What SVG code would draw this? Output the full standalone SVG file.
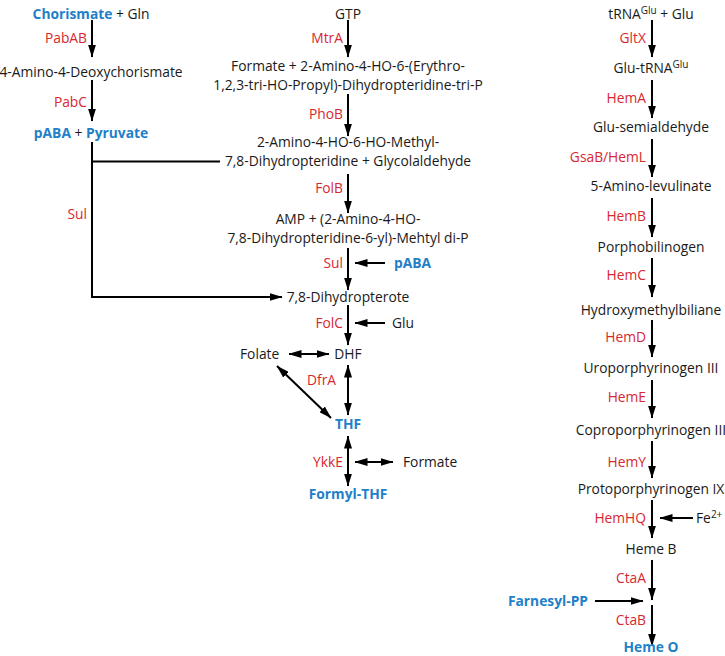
<svg xmlns="http://www.w3.org/2000/svg" width="725" height="656" viewBox="0 0 725 656">
<style>
text{font-family:"Open Sans","Liberation Sans",sans-serif;font-size:13.8px;fill:#1a1a1a}
.c{text-anchor:middle}
.e{text-anchor:end;fill:#d7282f}
.b{fill:#2180c8;font-weight:bold}
.ln{stroke:#000;stroke-width:2;fill:none}
.a{marker-end:url(#ah)}
.d{marker-start:url(#ah);marker-end:url(#ah)}
</style>
<defs>
<marker id="ah" viewBox="0 0 13 8" refX="12.5" refY="4" markerWidth="13" markerHeight="8" markerUnits="userSpaceOnUse" orient="auto-start-reverse"><path d="M0,0 L13,4 L0,8 z" fill="#000"/></marker>
</defs>
<g id="connectors">
<path class="ln a" d="M92,20 V57"/>
<path class="ln a" d="M92,80 V121"/>
<path class="ln a" d="M92,142 V297 H282"/>
<path class="ln" d="M92,161.5 H220"/>
<path class="ln a" d="M348,20 V57"/>
<path class="ln a" d="M348,94 V136"/>
<path class="ln a" d="M348,174 V213"/>
<path class="ln a" d="M348,248 V290"/>
<path class="ln a" d="M385,263 H355"/>
<path class="ln a" d="M348,305 V345"/>
<path class="ln a" d="M385,323 H355"/>
<path class="ln d" d="M289,354 H329"/>
<path class="ln d" d="M348,365 V415"/>
<path class="ln d" d="M277,366 L331,418"/>
<path class="ln d" d="M348,436 V486"/>
<path class="ln d" d="M355,462 H393"/>
<path class="ln a" d="M652,20 V57"/>
<path class="ln a" d="M652,80 V118"/>
<path class="ln a" d="M652,139 V177"/>
<path class="ln a" d="M652,198 V237"/>
<path class="ln a" d="M652,258 V297"/>
<path class="ln a" d="M652,320 V357"/>
<path class="ln a" d="M652,380 V418"/>
<path class="ln a" d="M652,441 V478"/>
<path class="ln a" d="M652,500 V538"/>
<path class="ln a" d="M693,518 H660"/>
<path class="ln a" d="M652,560 V600"/>
<path class="ln a" d="M595,601 H643"/>
<path class="ln a" d="M652,605 V646"/>
</g>
<g id="chorismate"><text class="c" x="91" y="19"><tspan class="b">Chorismate</tspan> + Gln</text></g>
<g id="pabab"><text class="e" x="87" y="43">PabAB</text></g>
<g id="adc"><text class="c" x="91" y="77">4-Amino-4-Deoxychorismate</text></g>
<g id="pabc"><text class="e" x="87" y="107">PabC</text></g>
<g id="paba"><text class="c" x="91" y="138"><tspan class="b">pABA</tspan> + <tspan class="b">Pyruvate</tspan></text></g>
<g id="sul1"><text class="e" x="87" y="219">Sul</text></g>
<g id="gtp"><text class="c" x="348" y="19">GTP</text></g>
<g id="mtra"><text class="e" x="343" y="43">MtrA</text></g>
<g id="formate1"><text class="c" x="348" y="71">Formate + 2-Amino-4-HO-6-(Erythro-</text><text class="c" x="348" y="90">1,2,3-tri-HO-Propyl)-Dihydropteridine-tri-P</text></g>
<g id="phob"><text class="e" x="343" y="119">PhoB</text></g>
<g id="dihydropteridine"><text class="c" x="348" y="147">2-Amino-4-HO-6-HO-Methyl-</text><text class="c" x="348" y="166">7,8-Dihydropteridine + Glycolaldehyde</text></g>
<g id="folb"><text class="e" x="343" y="193">FolB</text></g>
<g id="amp"><text class="c" x="348" y="224">AMP + (2-Amino-4-HO-</text><text class="c" x="348" y="243">7,8-Dihydropteridine-6-yl)-Mehtyl di-P</text></g>
<g id="sul2"><text class="e" x="343" y="268">Sul</text></g>
<g id="paba2"><text class="b" x="394" y="268">pABA</text></g>
<g id="dihydropterote"><text class="c" x="348" y="302">7,8-Dihydropterote</text></g>
<g id="folc"><text class="e" x="343" y="328">FolC</text></g>
<g id="glu"><text x="392" y="328">Glu</text></g>
<g id="folate"><text x="240" y="359">Folate</text></g>
<g id="dhf"><text class="c" x="348" y="359">DHF</text></g>
<g id="dfra"><text class="e" x="336" y="385">DfrA</text></g>
<g id="thf"><text class="c b" x="348" y="429">THF</text></g>
<g id="ykke"><text class="e" x="343" y="467">YkkE</text></g>
<g id="formate2"><text x="403" y="467">Formate</text></g>
<g id="formylthf"><text class="c b" x="348" y="499">Formyl-THF</text></g>
<g id="trna"><text class="c" x="651" y="19">tRNA<tspan dy="-5" font-size="10">Glu</tspan><tspan dy="5"> + Glu</tspan></text></g>
<g id="gltx"><text class="e" x="646" y="43">GltX</text></g>
<g id="glutrna"><text class="c" x="651" y="73">Glu-tRNA<tspan dy="-5" font-size="10">Glu</tspan></text></g>
<g id="hema"><text class="e" x="646" y="103">HemA</text></g>
<g id="gsa"><text class="c" x="651" y="132">Glu-semialdehyde</text></g>
<g id="gsab"><text class="e" x="646" y="162">GsaB/HemL</text></g>
<g id="ala"><text class="c" x="651" y="191">5-Amino-levulinate</text></g>
<g id="hemb"><text class="e" x="646" y="221">HemB</text></g>
<g id="pbg"><text class="c" x="651" y="252">Porphobilinogen</text></g>
<g id="hemc"><text class="e" x="646" y="280">HemC</text></g>
<g id="hmb"><text class="c" x="651" y="315">Hydroxymethylbiliane</text></g>
<g id="hemd"><text class="e" x="646" y="342">HemD</text></g>
<g id="uro"><text class="c" x="651" y="373">Uroporphyrinogen III</text></g>
<g id="heme"><text class="e" x="646" y="402">HemE</text></g>
<g id="copro"><text class="c" x="651" y="435">Coproporphyrinogen III</text></g>
<g id="hemy"><text class="e" x="646" y="467">HemY</text></g>
<g id="proto"><text class="c" x="651" y="494">Protoporphyrinogen IX</text></g>
<g id="hemhq"><text class="e" x="646" y="523">HemHQ</text></g>
<g id="fe"><text x="696" y="523">Fe<tspan dy="-5" font-size="10">2+</tspan></text></g>
<g id="hemeb"><text class="c" x="651" y="554">Heme B</text></g>
<g id="ctaa"><text class="e" x="646" y="583">CtaA</text></g>
<g id="farnesyl"><text class="e b" x="588" y="606" style="fill:#2180c8">Farnesyl-PP</text></g>
<g id="ctab"><text class="e" x="646" y="625">CtaB</text></g>
<g id="hemeo"><text class="c b" x="651" y="651.5">Heme O</text></g>
</svg>
